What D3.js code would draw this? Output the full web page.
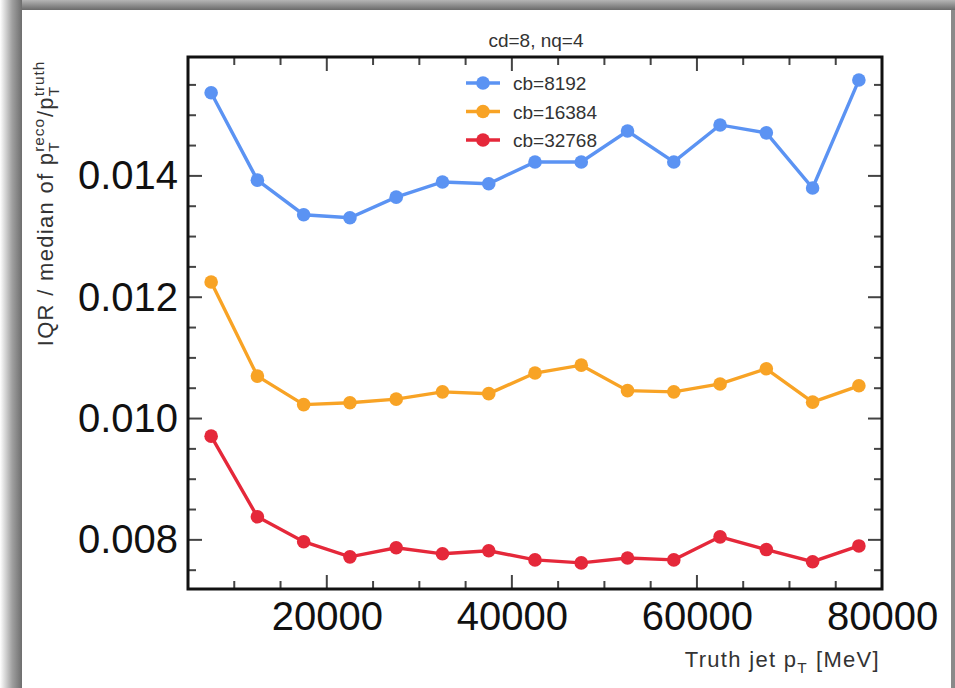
<!DOCTYPE html>
<html><head><meta charset="utf-8">
<script src="https://cdn.jsdelivr.net/npm/d3@7/dist/d3.min.js"></script>
<style>
html,body{margin:0;padding:0;background:#fff;}
svg{display:block;font-family:"Liberation Sans",Arial,Helvetica,sans-serif;}
</style></head>
<body>
<svg id="chart" width="955" height="688"></svg>
<script>
const ptBins = [7500,12500,17500,22500,27500,32500,37500,42500,47500,52500,57500,62500,67500,72500,77500];
const seriesNames = ["cb=8192","cb=16384","cb=32768"];
const cb8192 = [0.01537,0.01393,0.01336,0.01331,0.01365,0.01390,0.01387,0.01423,0.01423,0.01474,0.01423,0.01484,0.01471,0.01380,0.01558];
const cb16384 = [0.01225,0.01070,0.01023,0.01026,0.01032,0.01044,0.01041,0.01075,0.01088,0.01046,0.01044,0.01057,0.01082,0.01027,0.01054];
const cb32768 = [0.00971,0.00838,0.00797,0.00772,0.00787,0.00777,0.00782,0.00767,0.00762,0.00770,0.00767,0.00805,0.00784,0.00764,0.00790];
const xTickLabels = [20000,40000,60000,80000];
const yTickLabels = [0.008,0.010,0.012,0.014];
const colors = ["#5b93f3","#f8a325","#e5283a"];
const allSeries = [cb8192, cb16384, cb32768];

const svg = d3.select("#chart");
const W = 955, H = 688;

// window frame
const defs = svg.append("defs");
const gTop = defs.append("linearGradient").attr("id","gtop").attr("x1",0).attr("y1",0).attr("x2",0).attr("y2",1);
gTop.append("stop").attr("offset","0%").attr("stop-color","#b5b5b5");
gTop.append("stop").attr("offset","100%").attr("stop-color","#6a6a6a");
const gLeft = defs.append("linearGradient").attr("id","gleft").attr("x1",0).attr("y1",0).attr("x2",1).attr("y2",0);
gLeft.append("stop").attr("offset","0%").attr("stop-color","#ffffff");
gLeft.append("stop").attr("offset","55%").attr("stop-color","#a0a0a0");
gLeft.append("stop").attr("offset","100%").attr("stop-color","#6e6e6e");
svg.append("rect").attr("x",0).attr("y",0).attr("width",W).attr("height",H).attr("fill","#fff");
svg.append("rect").attr("x",0).attr("y",0).attr("width",W).attr("height",10).attr("fill","url(#gtop)");
svg.append("rect").attr("x",0).attr("y",0).attr("width",22).attr("height",H).attr("fill","url(#gleft)");
svg.append("rect").attr("x",951).attr("y",10).attr("width",4).attr("height",H).attr("fill","#8a8a8a");

const L = 188, R = 882, T = 57, B = 589;
const x = d3.scaleLinear().domain([5000,80000]).range([L,R]);
const y = d3.scaleLinear().domain([0.00719,0.01596]).range([B,T]);

const tickColor = "#444";
const major = 14, minor = 8;
const g = svg.append("g");

const xMinor = d3.range(10000,80001,5000);
xMinor.forEach(v=>{
  const isMaj = v % 20000 === 0;
  const len = isMaj ? major : minor;
  g.append("line").attr("x1",x(v)).attr("x2",x(v)).attr("y1",B).attr("y2",B-len).attr("stroke",tickColor).attr("stroke-width",2);
  g.append("line").attr("x1",x(v)).attr("x2",x(v)).attr("y1",T).attr("y2",T+len).attr("stroke",tickColor).attr("stroke-width",2);
});
const yMinor = d3.range(0.0075,0.01596,0.0005);
yMinor.forEach(v=>{
  const isMaj = Math.abs(Math.round(v*1000/2)*2 - v*1000) < 1e-6;
  const len = isMaj ? major : minor;
  g.append("line").attr("x1",L).attr("x2",L+len).attr("y1",y(v)).attr("y2",y(v)).attr("stroke",tickColor).attr("stroke-width",2);
  g.append("line").attr("x1",R).attr("x2",R-len).attr("y1",y(v)).attr("y2",y(v)).attr("stroke",tickColor).attr("stroke-width",2);
});

const xAxis = d3.axisBottom(x).tickValues(xTickLabels).tickSize(0).tickPadding(13).tickFormat(d3.format("d"));
const xa = svg.append("g").attr("transform",`translate(0,${B})`).call(xAxis);
xa.select(".domain").remove();
xa.selectAll("text").attr("font-size",40).attr("fill","#111").attr("font-family","Liberation Sans, Arial, sans-serif");

const yAxis = d3.axisLeft(y).tickValues(yTickLabels).tickSize(0).tickPadding(10).tickFormat(d3.format(".3f"));
const ya = svg.append("g").attr("transform",`translate(${L},0)`).call(yAxis);
ya.select(".domain").remove();
ya.selectAll("text").attr("font-size",40).attr("fill","#111").attr("font-family","Liberation Sans, Arial, sans-serif");

svg.append("rect").attr("x",L).attr("y",T).attr("width",R-L).attr("height",B-T)
  .attr("fill","none").attr("stroke","#111").attr("stroke-width",3);

const line = d3.line().x((d,i)=>x(ptBins[i])).y(d=>y(d));
allSeries.forEach((s,k)=>{
  svg.append("path").datum(s).attr("d",line).attr("fill","none").attr("stroke",colors[k]).attr("stroke-width",3.4);
  svg.append("g").selectAll("circle").data(s).join("circle")
    .attr("cx",(d,i)=>x(ptBins[i])).attr("cy",d=>y(d)).attr("r",6.8).attr("fill",colors[k]);
});

const leg = svg.append("g");
seriesNames.forEach((n,k)=>{
  const ly = 83 + k*28.5;
  leg.append("line").attr("x1",466).attr("x2",500).attr("y1",ly).attr("y2",ly).attr("stroke",colors[k]).attr("stroke-width",3.4);
  leg.append("circle").attr("cx",483).attr("cy",ly).attr("r",6.8).attr("fill",colors[k]);
  leg.append("text").attr("x",513).attr("y",ly+7).attr("font-size",19).attr("fill","#333").text(n);
});

svg.append("text").attr("x",536).attr("y",47).attr("text-anchor","middle").attr("font-size",19).attr("fill","#333").text("cd=8, nq=4");

function richLabel(parent, pieces, F, ls) {
  const grp = parent.append("g");
  let cx = 0;
  pieces.forEach(p=>{
    if (p.main) {
      const t = grp.append("text").attr("x",cx).attr("y",0).attr("font-size",F).attr("letter-spacing",ls)
        .attr("fill","#333").style("white-space","pre").text(p.main);
      cx += t.node().getComputedTextLength();
    } else {
      const f = F*0.7;
      let w = 0;
      if (p.sup) {
        const t = grp.append("text").attr("x",cx).attr("y",-F*0.42).attr("font-size",f).attr("letter-spacing",ls*0.7).attr("fill","#333").text(p.sup);
        w = Math.max(w, t.node().getComputedTextLength());
      }
      if (p.sub) {
        const t = grp.append("text").attr("x",cx).attr("y",F*0.25).attr("font-size",f).attr("letter-spacing",ls*0.7).attr("fill","#333").text(p.sub);
        w = Math.max(w, t.node().getComputedTextLength());
      }
      cx += w + 1;
    }
  });
  return {grp, width: cx};
}

const xlab = richLabel(svg, [{main:"Truth jet p"},{sub:"T"},{main:"\u00a0[MeV]"}], 22, 1.3);
xlab.grp.attr("transform",`translate(${880 - xlab.width},667)`);

const ylab = richLabel(svg, [{main:"IQR / median of p"},{sup:"reco",sub:"T"},{main:"/p"},{sup:"truth",sub:"T"}], 22, 1.3);
ylab.grp.attr("transform",`translate(53,${203 + ylab.width/2}) rotate(-90)`);
</script>
</body></html>
